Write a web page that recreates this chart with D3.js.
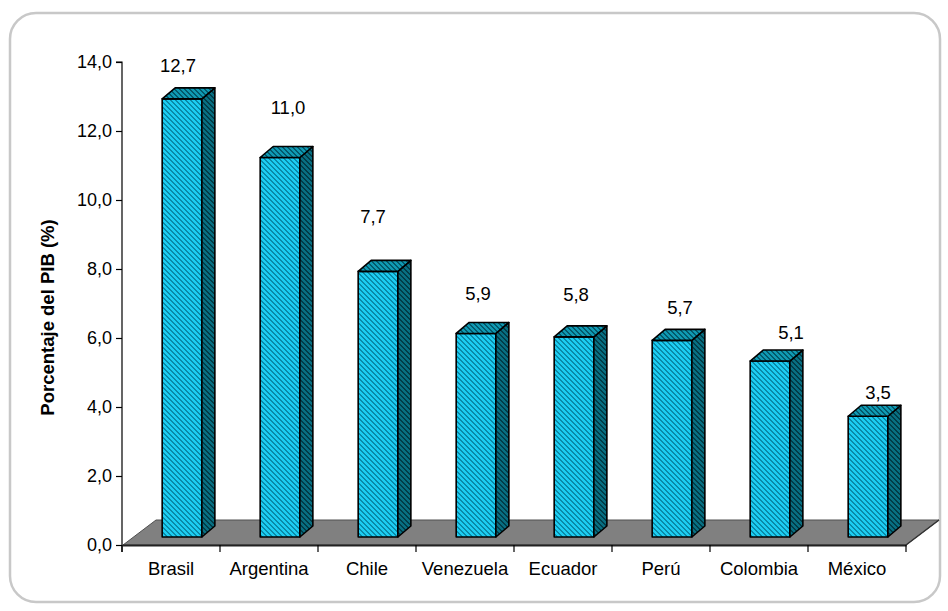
<!DOCTYPE html>
<html>
<head>
<meta charset="utf-8">
<script src="https://cdn.jsdelivr.net/npm/d3@7"></script>
<style>
  html, body { margin: 0; padding: 0; background: #ffffff; }
  svg { display: block; }
  text { font-family: "Liberation Sans", Arial, sans-serif; fill: #000; }
</style>
</head>
<body>
<svg id="chart" width="948" height="611"></svg>
<script>
// ---- data ----
const categories = ["Brasil", "Argentina", "Chile", "Venezuela", "Ecuador", "Perú", "Colombia", "México"];
const values = [12.7, 11.0, 7.7, 5.9, 5.8, 5.7, 5.1, 3.5];
const yTicks = [0, 2, 4, 6, 8, 10, 12, 14];
const yTitle = "Porcentaje del PIB (%)";

// ---- layout (label placement, in axis value units / pixel nudges) ----
const labelLevel = [13.9, 12.68, 9.54, 7.29, 7.27, 6.9, 6.17, 4.43];
const labelNudge = [-4, 8, -5, 2, 2, 8, 21, 10];

const fmt = v => v.toFixed(1).replace(".", ",");

const svg = d3.select("#chart");
const defs = svg.append("defs");

// crisp pixel diagonal hatch "\" : period 5px, dark stripe 2px wide
function stripes(id, base, stripe) {
  const n = 5;
  const p = defs.append("pattern")
    .attr("id", id).attr("patternUnits", "userSpaceOnUse")
    .attr("width", n).attr("height", n);
  p.append("rect").attr("width", n).attr("height", n).attr("fill", base);
  for (let i = 0; i < n; i++) {
    for (let k = 0; k < 2; k++) {
      p.append("rect").attr("x", (i + k) % n).attr("y", i).attr("width", 1).attr("height", 1)
        .attr("fill", stripe).attr("shape-rendering", "crispEdges");
    }
  }
}
stripes("pFront", "#1ccdf2", "#0a8aa8");
stripes("pSide", "#086f82", "#023c48");
stripes("pTop", "#0f9ab3", "#04586b");

// frame
svg.append("rect").attr("x", 10).attr("y", 13).attr("width", 930).attr("height", 589)
  .attr("rx", 26).attr("ry", 26)
  .attr("fill", "none").attr("stroke", "#c8c8c8").attr("stroke-width", 2.5);

const x = d3.scaleBand().domain(categories).range([122, 906]).padding(0);
const y = d3.scaleLinear().domain([0, 14]).range([545, 62]);

// depth vectors
const floorD = [33, -25];
const barOff = [11, -8];
const barD = [13, -11];

// floor
const x0 = x.range()[0], x1 = x.range()[1], y0 = y(0);
svg.append("polygon")
  .attr("points", [[x0 + 1, y0], [x1, y0], [x1 + floorD[0], y0 + floorD[1]], [x0 + 1 + floorD[0], y0 + floorD[1]]].map(p => p.join(",")).join(" "))
  .attr("fill", "#808080").attr("stroke", "#505050").attr("stroke-width", 1);
svg.append("line").attr("x1", x1).attr("y1", y0).attr("x2", x1 + floorD[0]).attr("y2", y0 + floorD[1])
  .attr("stroke", "#333").attr("stroke-width", 1.5);

// bars
const bw = x.bandwidth();
const barW = bw * 0.405;
const bars = svg.append("g");
categories.forEach((c, i) => {
  const v = values[i];
  const fx0 = x(c) + bw * 0.41;
  const fx1 = fx0 + barW;
  const top = y(v) + barOff[1];
  const bot = y(0) + barOff[1];
  const g = bars.append("g").attr("stroke", "#000").attr("stroke-width", 1.6).attr("stroke-linejoin", "round");
  g.append("rect").attr("x", fx0).attr("y", top).attr("width", barW).attr("height", bot - top)
    .attr("fill", "url(#pFront)");
  g.append("polygon").attr("points", [[fx1, bot], [fx1 + barD[0], bot + barD[1]], [fx1 + barD[0], top + barD[1]], [fx1, top]].map(p => p.join(",")).join(" "))
    .attr("fill", "url(#pSide)");
  g.append("polygon").attr("points", [[fx0, top], [fx0 + barD[0], top + barD[1]], [fx1 + barD[0], top + barD[1]], [fx1, top]].map(p => p.join(",")).join(" "))
    .attr("fill", "url(#pTop)");
});

// y axis
const yAxis = d3.axisLeft(y).tickValues(yTicks).tickFormat(fmt).tickSize(6).tickPadding(4);
const gy = svg.append("g").attr("transform", `translate(${x0},0)`).call(yAxis);
gy.select(".domain").attr("stroke", "#000").attr("stroke-width", 1.2).attr("d", `M-6,${y(14)}H0V${y(0) + 7}`);
gy.selectAll(".tick line").attr("stroke", "#000").attr("stroke-width", 1.2);
gy.selectAll(".tick text").style("font-family", '"Liberation Sans", Arial, sans-serif').style("font-size", "18px").attr("fill", "#000");

// x axis
const xAxis = d3.axisBottom(x).tickSize(0).tickPadding(17);
const gx = svg.append("g").attr("transform", `translate(0,${y0})`).call(xAxis);
gx.select(".domain").attr("stroke", "#222").attr("stroke-width", 2);
gx.selectAll(".tick text").style("font-family", '"Liberation Sans", Arial, sans-serif').style("font-size", "18.5px").attr("fill", "#000");
const boundaries = categories.map(c => x(c)).concat([x1]);
gx.selectAll(".bound").data(boundaries).enter().append("line")
  .attr("x1", d => d).attr("x2", d => d).attr("y1", 0).attr("y2", 7)
  .attr("stroke", "#000").attr("stroke-width", 1.2);

// data labels
svg.append("g").selectAll("text").data(values).enter().append("text")
  .attr("x", (d, i) => x(categories[i]) + bw * 0.41 + barW / 2 + labelNudge[i])
  .attr("y", (d, i) => y(labelLevel[i]))
  .attr("dy", "0.36em")
  .attr("text-anchor", "middle")
  .style("font-size", "18.5px")
  .text(d => fmt(d));

// y title
svg.append("text")
  .attr("transform", `translate(54,${(y(0) + y(14)) / 2 + 14}) rotate(-90)`)
  .attr("text-anchor", "middle")
  .style("font-size", "18.5px").style("font-weight", "bold")
  .text(yTitle);
</script>
</body>
</html>
